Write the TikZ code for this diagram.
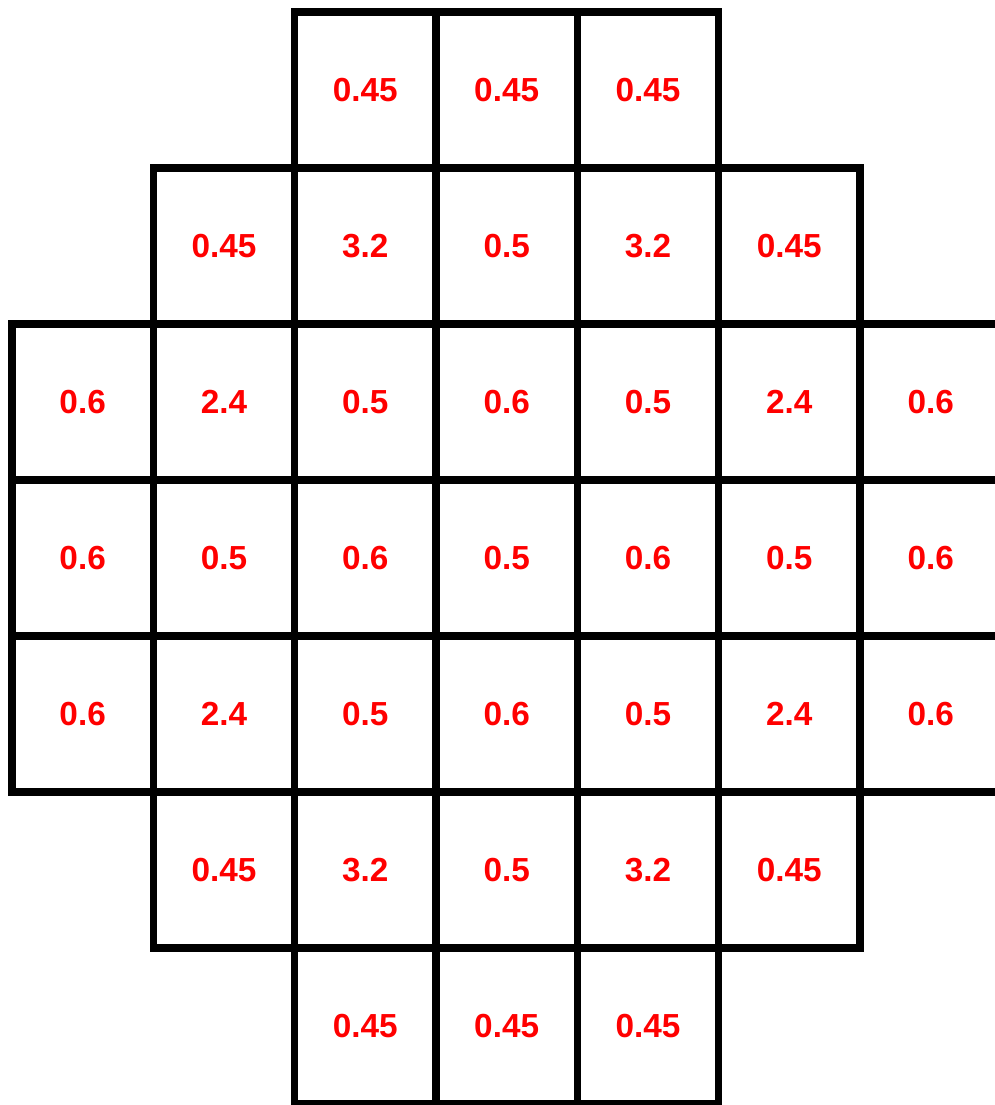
\documentclass[tikz,border=0pt]{standalone}
\usepackage{fontspec}
\setmainfont{Liberation Sans}
\usepackage{tikz}

\begin{document}
\begin{tikzpicture}[x=42.4pt,y=-46.8pt,
    cell/.style={draw,line width=2.25pt,minimum width=42.4pt,minimum height=46.8pt,
      inner sep=0pt,text=red,font=\bfseries\fontsize{10}{12}\selectfont}]
  \useasboundingbox (-0.0849,-0.0769) rectangle (6.955,7.0064);
  \clip (-0.0849,-0.0769) rectangle (6.955,7.0064);

  % row / first column / values
  \foreach \r/\first/\vals in {0/2/{0.45,0.45,0.45},
      1/1/{0.45,3.2,0.5,3.2,0.45},
      2/0/{0.6,2.4,0.5,0.6,0.5,2.4,0.6},
      3/0/{0.6,0.5,0.6,0.5,0.6,0.5,0.6},
      4/0/{0.6,2.4,0.5,0.6,0.5,2.4,0.6},
      5/1/{0.45,3.2,0.5,3.2,0.45},
      6/2/{0.45,0.45,0.45}}{
    \foreach \v [count=\c from \first] in \vals
      \node[cell] (c\r\c) at (\c+0.5,\r+0.5) {\v};
  }
\end{tikzpicture}
\end{document}
